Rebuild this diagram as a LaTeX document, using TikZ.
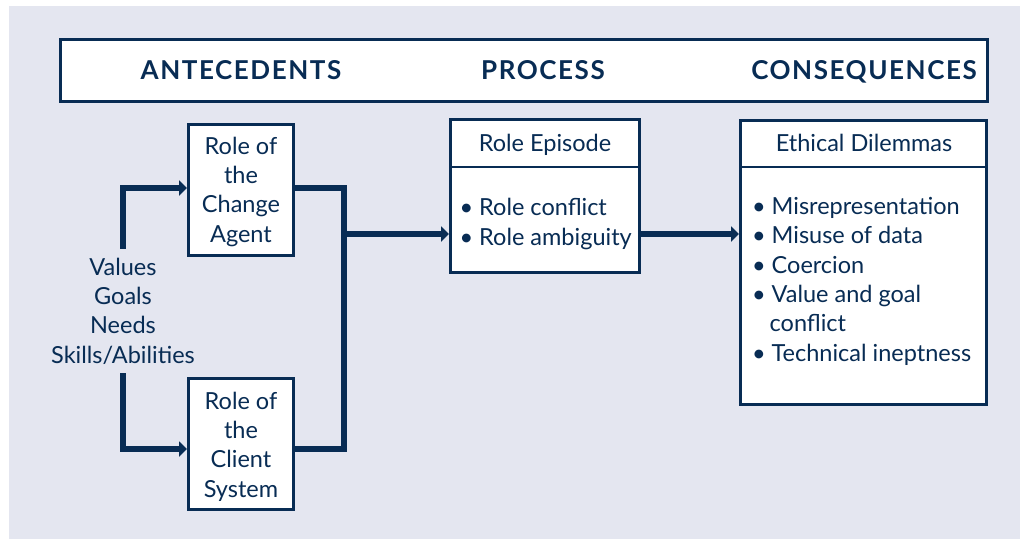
\documentclass[tikz,border=0pt]{standalone}
\usepackage{fontspec}
\setmainfont{Lato}
\newfontfamily\headfont[LetterSpace=6]{Lato}
\usetikzlibrary{arrows.meta}
\definecolor{navy}{RGB}{8,44,84}
\definecolor{bgc}{RGB}{228,230,240}
\newcommand{\bul}{\makebox[15.5pt][l]{\hspace*{-4pt}•}}
\begin{document}
\begin{tikzpicture}[x=1pt,y=-1pt,
  box/.style={draw=navy, line width=2.6pt, fill=white, inner sep=0pt},
  txt/.style={text=navy, font=\fontsize{23.5}{29.3}\selectfont, inner sep=0pt},
  head/.style={text=navy, font=\headfont\fontsize{26}{28}\selectfont\bfseries, inner sep=0pt},
  conn/.style={draw=navy, line width=6pt, line join=miter},
  arr/.style={conn, -{Triangle[length=8pt,width=15pt]}},
]
\useasboundingbox (0,0) rectangle (1020,539);
\fill[bgc] (9,6) rectangle (1020,539);
% header
\node[box, minimum width=927.4, minimum height=62.4] (hdr) at (524,70.5) {};
\node[head, anchor=base] (ante) at (241,79) {ANTECEDENTS};
\node[head, anchor=base] (proc) at (543,79) {PROCESS};
\node[head, anchor=base] (cons) at (864,79) {CONSEQUENCES};
% boxes
\node[box, minimum width=105.4, minimum height=131.4] (agent) at (241,190) {};
\node[box, minimum width=105.4, minimum height=131.4] (client) at (241,444) {};
\node[box, minimum width=189.4, minimum height=153.4] (episode) at (545,196) {};
\node[box, minimum width=246.4, minimum height=284.4] (ethical) at (863.5,262.5) {};
\coordinate (d1) at (0,167);
\draw[navy, line width=2.6pt] (episode.west |- d1) -- (episode.east |- d1);
\draw[navy, line width=2.6pt] (ethical.west |- d1) -- (ethical.east |- d1);
% texts
\node[txt, align=center, anchor=base] (agenttxt) at (241,242) {Role of\\the\\Change\\Agent};
\node[txt, align=center, anchor=base] (clienttxt) at (241,497) {Role of\\the\\Client\\System};
\node[txt, anchor=base] (ephead) at (545,151) {Role Episode};
\node[txt, align=left, anchor=base west] (eplist) at (463.5,245) {\bul Role conflict\\\bul Role ambiguity};
\node[txt, anchor=base] (ethead) at (864,151) {Ethical Dilemmas};
\node[txt, align=left, anchor=base west] (etlist) at (756,361) {\bul Misrepresentation\\\bul Misuse of data\\\bul Coercion\\\bul Value and goal\\\hspace*{13.5pt}conflict\\\bul Technical ineptness};
\node[txt, align=center, anchor=base, inner ysep=9pt] (values) at (123,363) {Values\\Goals\\Needs\\Skills/Abilities};
% connectors
\coordinate (jt) at (344,188);
\coordinate (jb) at (344,449);
\coordinate (jm) at (344,234);
\draw[arr] (values.north) |- (agent.west |- jt);
\draw[arr] (values.south) |- (client.west |- jb);
\draw[conn] (agent.east |- jt) -- (jt) -- (jb) -- (client.east |- jb);
\draw[arr] (jm) -- (episode.west |- jm);
\draw[arr] (episode.east |- jm) -- (ethical.west |- jm);
\end{tikzpicture}
\end{document}
